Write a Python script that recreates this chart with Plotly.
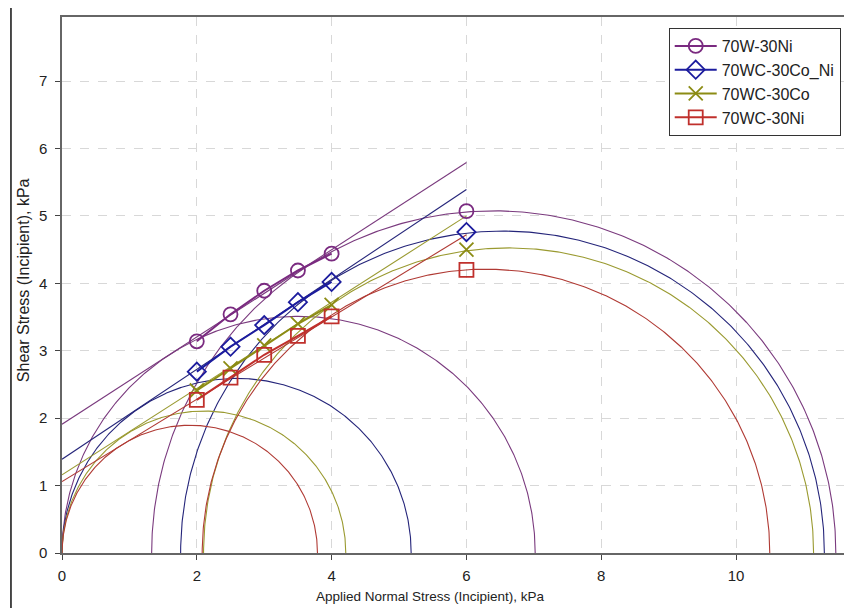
import numpy as np
import plotly.graph_objects as go

# ---------------- data ----------------
materials = ["70W-30Ni", "70WC-30Co_Ni", "70WC-30Co", "70WC-30Ni"]
sigma = [2, 2.5, 3, 3.5, 4, 6]
tau_70W_30Ni = [3.14, 3.54, 3.89, 4.19, 4.44, 5.07]
tau_70WC_30Co_Ni = [2.69, 3.06, 3.38, 3.72, 4.02, 4.76]
tau_70WC_30Co = [2.41, 2.74, 3.08, 3.40, 3.68, 4.50]
tau_70WC_30Ni = [2.27, 2.60, 2.94, 3.22, 3.51, 4.20]
taus = [tau_70W_30Ni, tau_70WC_30Co_Ni, tau_70WC_30Co, tau_70WC_30Ni]

# Mohr circles (sigma3, sigma1) per material: small circle then large circle
small_s3 = [0.0, 0.0, 0.0, 0.0]
small_s1 = [7.02, 5.18, 4.21, 3.79]
large_s3 = [1.33, 1.76, 2.10, 2.08]
large_s1 = [11.48, 11.31, 11.15, 10.50]

# failure envelopes: tau = c + sigma * tan(phi), drawn from 0 to 6
env_c = [1.91, 1.39, 1.16, 1.06]
env_tan = [0.647, 0.667, 0.64, 0.61]
env_sigma_max = 6

x_ticks = [0, 2, 4, 6, 8, 10]
y_ticks = [0, 1, 2, 3, 4, 5, 6, 7]
x_title = "Applied Normal Stress (Incipient), kPa"
y_title = "Shear Stress (Incipient), kPa"

# ---------------- styles ----------------
colors = ["#7a2a80", "#1c1c9e", "#8c8c14", "#c0302c"]
circ_colors = ["#7a3a7e", "#25257a", "#9a9a30", "#b03a34"]
symbols = ["circle-open", "diamond-open", "x-thin-open", "square-open"]
marker_sizes = [14, 14, 14, 14]

fig = go.Figure()

theta = np.linspace(0, np.pi, 400)
for i in range(4):
    for s3, s1 in ((small_s3[i], small_s1[i]), (large_s3[i], large_s1[i])):
        c = (s1 + s3) / 2
        r = (s1 - s3) / 2
        fig.add_trace(go.Scatter(x=c + r * np.cos(theta), y=r * np.sin(theta),
                                 mode="lines", line=dict(color=circ_colors[i], width=1.1),
                                 showlegend=False, hoverinfo="skip"))
    xs = np.array([0, env_sigma_max])
    fig.add_trace(go.Scatter(x=xs, y=env_c[i] + env_tan[i] * xs, mode="lines",
                             line=dict(color=circ_colors[i], width=1.1),
                             showlegend=False, hoverinfo="skip"))

for i in range(4):
    xs = sigma[:5] + [None] + sigma[5:]
    ys = taus[i][:5] + [None] + taus[i][5:]
    fig.add_trace(go.Scatter(x=xs, y=ys, mode="lines+markers", name=materials[i],
                             connectgaps=False,
                             line=dict(color=colors[i], width=2),
                             marker=dict(symbol=symbols[i], size=marker_sizes[i],
                                         color=colors[i],
                                         line=dict(color=colors[i], width=1.8))))

grid = dict(showgrid=True, gridcolor="#d8d8d8", griddash="dash", gridwidth=1)
fig.update_xaxes(range=[0, 11.72], tickvals=x_ticks, ticks="outside", ticklen=5,
                 tickcolor="#444", showline=True, linecolor="#666", linewidth=1.5,
                 mirror=True, zeroline=False, ticklabelstandoff=3,
                 tickfont=dict(size=15, color="#222"), **grid)
fig.update_yaxes(range=[0, 7.95], tickvals=y_ticks, ticks="outside", ticklen=5,
                 tickcolor="#444", showline=True, linecolor="#666", linewidth=1.5,
                 mirror=True, zeroline=False, ticklabelstandoff=5,
                 tickfont=dict(size=15, color="#222"), **grid)

fig.add_annotation(text=x_title, xref="paper", yref="paper", x=0.466, y=-0.081,
                   xanchor="center", yanchor="middle", showarrow=False,
                   font=dict(size=13.5, color="#222"))
fig.add_annotation(text=y_title, xref="paper", yref="paper", x=-0.0494, y=0.509,
                   xanchor="center", yanchor="middle", showarrow=False, textangle=-90,
                   font=dict(size=16, color="#222"))

fig.add_shape(type="rect", xref="paper", yref="paper", x0=-0.0646, x1=1.02,
              y0=-0.3, y1=1.0205, line=dict(color="#111", width=1.5), layer="above")

fig.update_layout(
    width=844, height=600,
    margin=dict(l=54, r=0, t=9, b=55, autoexpand=False),
    paper_bgcolor="white", plot_bgcolor="white",
    font=dict(family="Liberation Sans, Arial, sans-serif", color="#222"),
    legend=dict(x=0.768, y=0.9795, xanchor="left", yanchor="top",
                bgcolor="white", bordercolor="#333", borderwidth=1, itemwidth=42,
                font=dict(size=16, color="#222"), tracegroupgap=2),
    showlegend=True,
)

fig.write_html("out.html")
